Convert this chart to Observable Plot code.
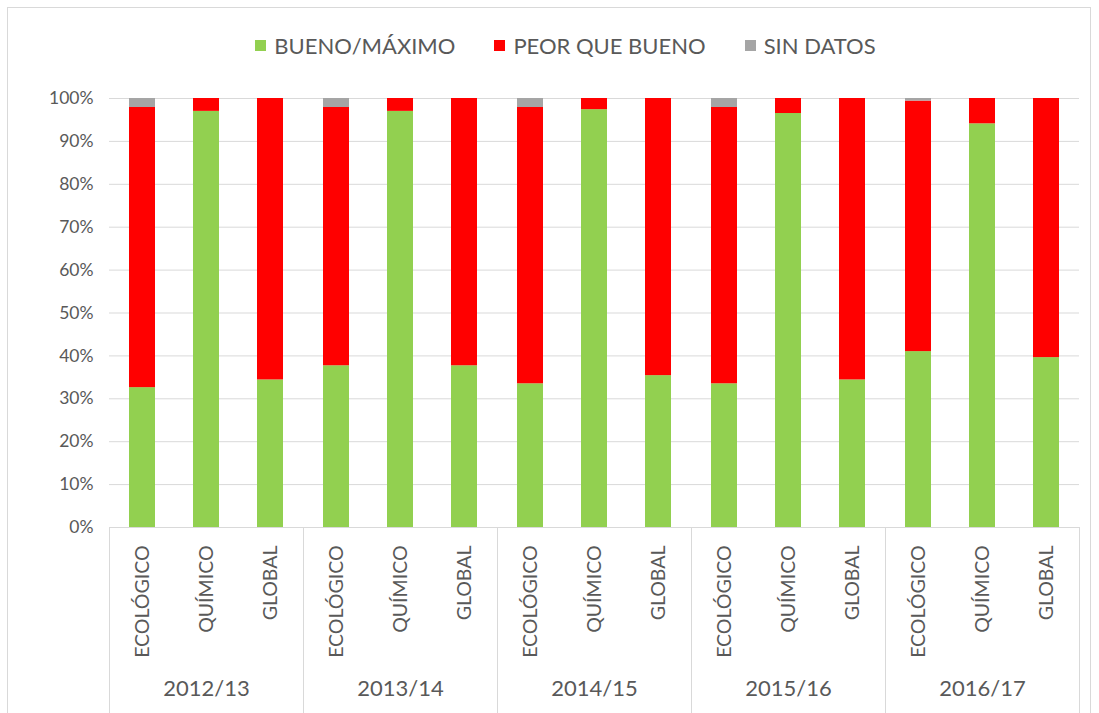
<!DOCTYPE html>
<html>
<head>
<meta charset="utf-8">
<script src="https://cdn.jsdelivr.net/npm/d3@7"></script>
<script src="https://cdn.jsdelivr.net/npm/@observablehq/plot@0.6"></script>
<style>
  html, body { margin: 0; padding: 0; background: #fff; overflow: hidden; }
  #wrap { position: relative; width: 1099px; height: 713px; overflow: hidden; font-family: Lato, sans-serif; color: #595959; }
  #border { position: absolute; left: 7px; top: 7px; width: 1084px; height: 730px; border: 1px solid #d9d9d9; box-sizing: border-box; }
  #legend { position: absolute; left: 16px; width: 1099px; top: 33px; height: 24px; display: flex; justify-content: center; align-items: center; font-size: 22px; }
  .item { display: flex; align-items: center; margin: 0 19.5px; }
  .sw { width: 11px; height: 11px; margin-right: 8px; }
  #chart { position: absolute; left: 0; top: 0; }
</style>
</head>
<body>
<div id="wrap">
  <div id="border"></div>
  <div id="chart"></div>
  <div id="legend"></div>
</div>
<script>
const years = ["2012/13", "2013/14", "2014/15", "2015/16", "2016/17"];
const categories = ["ECOLÓGICO", "QUÍMICO", "GLOBAL"];
const seriesNames = ["BUENO/MÁXIMO", "PEOR QUE BUENO", "SIN DATOS"];
const seriesColors = ["#92d050", "#ff0000", "#a5a5a5"];
// values per bar, in order year x category (percent)
const bueno     = [32.6, 97.0, 34.4, 37.7, 97.0, 37.7, 33.5, 97.4, 35.4, 33.5, 96.5, 34.4, 41.0, 94.1, 39.6];
const peorQue   = [65.3,  3.0, 65.6, 60.2,  3.0, 62.3, 64.4,  2.6, 64.6, 64.4,  3.5, 65.6, 58.4,  5.9, 60.4];
const sinDatos  = [ 2.1,  0.0,  0.0,  2.1,  0.0,  0.0,  2.1,  0.0,  0.0,  2.1,  0.0,  0.0,  0.6,  0.0,  0.0];
const yTicks = [0, 10, 20, 30, 40, 50, 60, 70, 80, 90, 100];

const seriesValues = [bueno, peorQue, sinDatos];
const data = [];
years.forEach((yr, i) => {
  categories.forEach((cat, j) => {
    const k = i * categories.length + j;
    seriesNames.forEach((s, si) => {
      data.push({year: yr, cat: cat, series: s, value: seriesValues[si][k]});
    });
  });
});

const W = 1099, H = 713;
const plot = Plot.plot({
  width: W, height: H,
  marginTop: 98, marginBottom: 186, marginLeft: 108, marginRight: 19,
  style: {fontFamily: "Lato, sans-serif", fontSize: "19px", color: "#595959", background: "transparent", overflow: "visible"},
  fx: {domain: years, padding: 0, label: null},
  x: {domain: categories, paddingInner: 0.6, paddingOuter: 0.3, label: null},
  y: {domain: [0, 100], label: null},
  color: {domain: seriesNames, range: seriesColors},
  marks: [
    Plot.gridY({ticks: yTicks, stroke: "#d9d9d9", strokeOpacity: 1, strokeWidth: 1}),
    Plot.barY(data, {fx: "year", x: "cat", y: "value", fill: "series", order: seriesNames}),
    Plot.ruleY([0], {stroke: "#d9d9d9", strokeWidth: 1}),
    Plot.axisY({ticks: yTicks, tickSize: 0, tickPadding: 16, fontSize: 17.5, tickFormat: d => d + "%", label: null}),
    Plot.axisX({tickRotate: -90, tickSize: 0, tickPadding: 18, fontSize: 19.5, label: null}),
    Plot.axisFx({anchor: "bottom", tickSize: 0, tickPadding: 153, fontSize: 22, label: null})
  ]
});

// group dividers at facet band edges, using Plot's fx scale
const fx = plot.scale("fx");
const y = plot.scale("y");
const edges = years.map(d => fx.apply(d)).concat([fx.apply(years[years.length - 1]) + fx.bandwidth]);
d3.select(plot).append("g")
  .attr("stroke", "#d9d9d9")
  .selectAll("line").data(edges).join("line")
  .attr("x1", d => Math.round(d) + 0.5).attr("x2", d => Math.round(d) + 0.5)
  .attr("y1", y.apply(0)).attr("y2", H);

document.getElementById("chart").appendChild(plot);

const legend = d3.select("#legend");
seriesNames.forEach((s, i) => {
  const it = legend.append("div").attr("class", "item");
  it.append("div").attr("class", "sw").style("background", seriesColors[i]);
  it.append("span").text(s);
});
</script>
</body>
</html>
